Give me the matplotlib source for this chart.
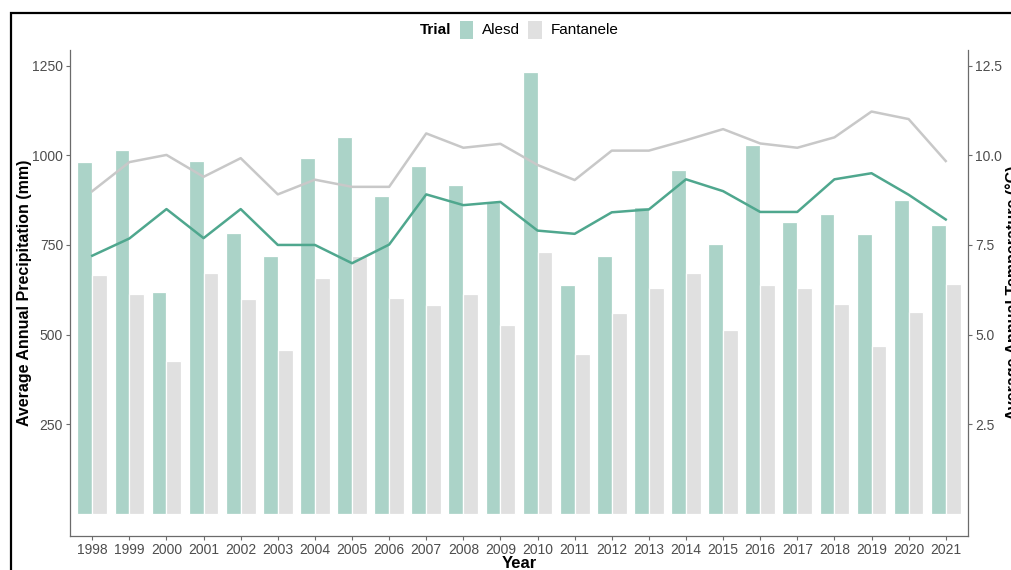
import matplotlib
matplotlib.use("Agg")
import matplotlib.pyplot as plt
import numpy as np
from matplotlib.patches import Rectangle
from matplotlib.offsetbox import (AnchoredOffsetbox, HPacker, TextArea,
                                  DrawingArea)

plt.rcParams['font.family'] = ['Liberation Sans', 'DejaVu Sans']

years = [1998, 1999, 2000, 2001, 2002, 2003, 2004, 2005, 2006, 2007, 2008,
         2009, 2010, 2011, 2012, 2013, 2014, 2015, 2016, 2017, 2018, 2019,
         2020, 2021]

precip_alesd = [981, 1015, 619, 985, 784, 718, 992, 1050, 887, 970, 916,
                870, 1232, 637, 718, 857, 959, 752, 1029, 813, 835, 780,
                876, 806]
precip_fantanele = [666, 613, 427, 671, 599, 456, 658, 720, 601, 583, 613,
                    526, 731, 445, 561, 630, 671, 514, 638, 630, 585, 468,
                    564, 641]

temp_alesd = [7.20, 7.68, 8.50, 7.69, 8.50, 7.50, 7.50, 6.99, 7.51, 8.91,
              8.61, 8.70, 7.90, 7.81, 8.41, 8.49, 9.33, 9.00, 8.42, 8.42,
              9.33, 9.50, 8.90, 8.21]
temp_fantanele = [9.00, 9.81, 10.01, 9.40, 9.92, 8.91, 9.32, 9.12, 9.12,
                  10.61, 10.21, 10.32, 9.73, 9.31, 10.13, 10.13, 10.42,
                  10.73, 10.33, 10.21, 10.50, 11.22, 11.01, 9.84]

trials = ["Alesd", "Fantanele"]

bar_colors = {"Alesd": "#abd3c8", "Fantanele": "#e0e0e0"}
line_colors = {"Alesd": "#4fa78e", "Fantanele": "#c8c8c8"}
text_grey = "#4d4d4d"
axis_grey = "#6b6b6b"

W, H = 1011, 570
fig = plt.figure(figsize=(W / 100, H / 100), dpi=100)
fig.patch.set_facecolor("white")

ax = fig.add_axes([70 / W, 1 - 536 / H, (968 - 70) / W, (536 - 50) / H])
x = np.arange(len(years))
bw = 0.4

ax.bar(x - bw / 2, precip_alesd, width=bw, color=bar_colors["Alesd"],
       edgecolor="white", linewidth=0.9, zorder=2)
ax.bar(x + bw / 2, precip_fantanele, width=bw, color=bar_colors["Fantanele"],
       edgecolor="white", linewidth=0.9, zorder=2)

pmax = max(max(precip_alesd), max(precip_fantanele))
lo, hi = -0.05 * pmax, 1.05 * pmax
ax.set_ylim(lo, hi)
ax.set_xlim(-0.6, len(years) - 0.4)

ax.set_xticks(x)
ax.set_xticklabels([str(y) for y in years])
ax.set_yticks([250, 500, 750, 1000, 1250])
ax.tick_params(axis="both", colors=axis_grey, labelcolor=text_grey,
               labelsize=10, length=3, width=0.8, pad=2)

for side in ("top", "right"):
    ax.spines[side].set_visible(False)
for side in ("left", "bottom"):
    ax.spines[side].set_color(axis_grey)
    ax.spines[side].set_linewidth(0.9)

ax.set_xlabel("Year", fontsize=12, fontweight="bold", labelpad=-1)
ax.set_ylabel("Average Annual Precipitation (mm)", fontsize=11.5,
              fontweight="bold", labelpad=0)

# Temperature on a secondary scale (1 °C = 100 mm)
ax2 = ax.twinx()
ax2.set_ylim(lo / 100, hi / 100)
ax2.plot(x, temp_fantanele, color=line_colors["Fantanele"], linewidth=1.8,
         zorder=3)
ax2.plot(x, temp_alesd, color=line_colors["Alesd"], linewidth=1.8, zorder=3)
ax2.set_yticks([2.5, 5.0, 7.5, 10.0, 12.5])
ax2.set_yticklabels(["2.5", "5.0", "7.5", "10.0", "12.5"])
ax2.tick_params(axis="y", colors=axis_grey, labelcolor=text_grey,
                labelsize=10, length=3, width=0.8, pad=2)
for side in ("top", "left", "bottom"):
    ax2.spines[side].set_visible(False)
ax2.spines["right"].set_color(axis_grey)
ax2.spines["right"].set_linewidth(0.9)

fig.text(1013 / W, 1 - 293 / H, "Average Annual Temperature (°C)",
         rotation=90, ha="center", va="center", fontsize=11.5,
         fontweight="bold")

# Legend across the top
items = [TextArea("Trial", textprops=dict(fontsize=11, fontweight="bold"))]
for t in trials:
    da = DrawingArea(10, 13, 0, 0)
    da.add_artist(Rectangle((0, 0), 10, 13, facecolor=bar_colors[t],
                            edgecolor="none"))
    items.append(da)
    items.append(TextArea(t, textprops=dict(fontsize=11)))
box = HPacker(children=items, align="center", pad=0, sep=6)
anchored = AnchoredOffsetbox(loc="center", child=box, frameon=False,
                             bbox_to_anchor=(519 / W, 1 - 30 / H),
                             bbox_transform=fig.transFigure, pad=0)
fig.add_artist(anchored)

# Outer frame
fig.add_artist(Rectangle((11 / W, -0.1), 1.2, 1 - 13 / H + 0.1,
                         transform=fig.transFigure, fill=False,
                         edgecolor="black", linewidth=1.6, clip_on=False))

fig.savefig("out.png", dpi=100)
